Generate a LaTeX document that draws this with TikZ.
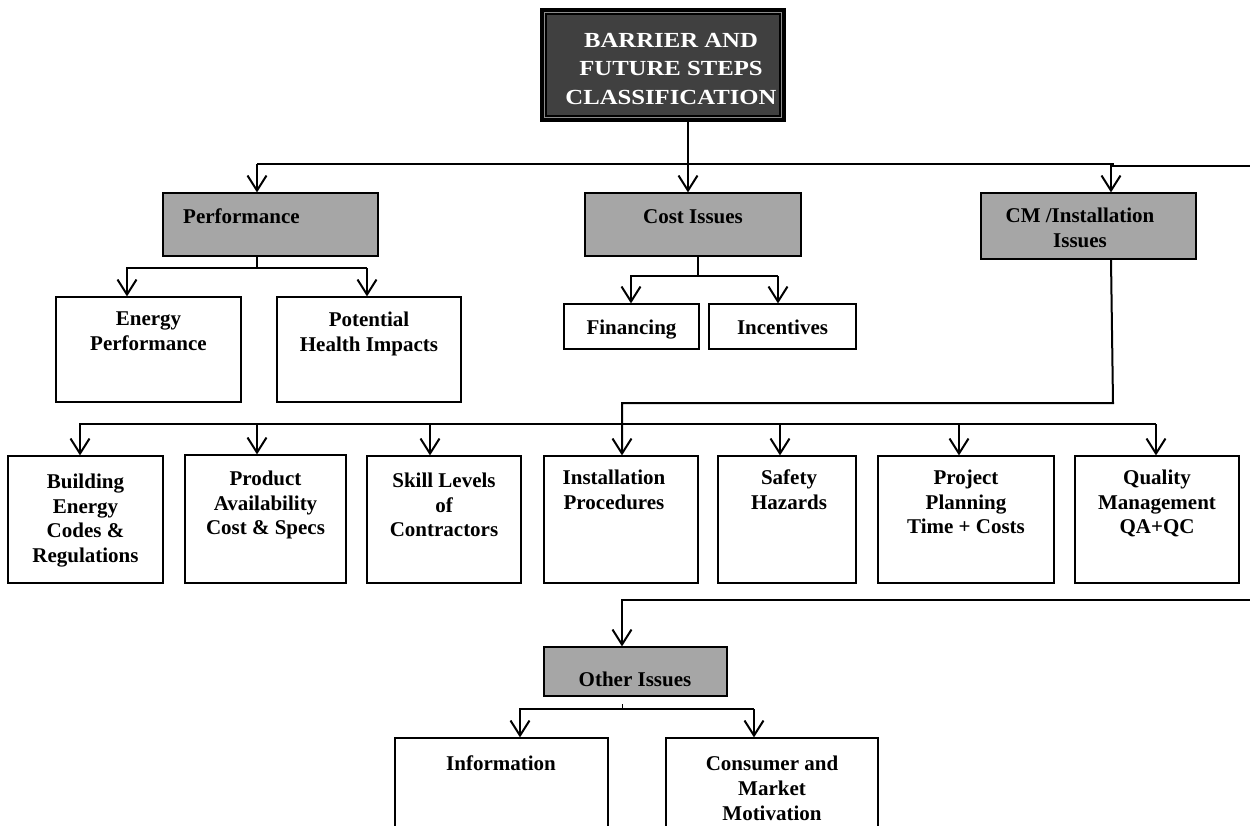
\documentclass[tikz,border=0pt]{standalone}
\usepackage{fontspec}
\setmainfont{Liberation Serif}
\newfontfamily\titlefont[FakeStretch=1.15]{Liberation Serif}
\usetikzlibrary{arrows.meta,calc}
\definecolor{boxgray}{HTML}{A6A6A6}
\definecolor{titlegray}{HTML}{404040}
\definecolor{framegray}{HTML}{8C8C8C}
\begin{document}
\begin{tikzpicture}[x=1pt,y=-1pt,
  box/.style={draw=black, line width=1.2pt, fill=white, inner sep=0pt},
  graybox/.style={box, fill=boxgray},
  lbl/.style={font=\fontsize{21}{24.5}\selectfont\bfseries, align=center, inner sep=0pt, anchor=north},
  link/.style={line width=2pt},
  arr/.style={link, -{Straight Barb[length=15pt,width=19pt]}},
]
\useasboundingbox (0,0) rectangle (1250,825);
\clip (0,0) rectangle (1250,825);

% ---- title block with double frame
\node[fill=black, inner sep=0pt, minimum width=246pt, minimum height=114pt] (title) at (663,65) {};
\draw[framegray, line width=1pt] ($(title.north west)+(4.5,4.5)$) rectangle ($(title.south east)+(-4.5,-4.5)$);
\draw[black, fill=titlegray, line width=1pt] ($(title.north west)+(6.5,6.5)$) rectangle ($(title.south east)+(-6.5,-6.5)$);
\node[lbl, text=white, font=\titlefont\fontsize{21.5}{28.5}\selectfont\bfseries] (titletxt) at (671,33) {BARRIER AND\\FUTURE STEPS\\CLASSIFICATION};

% ---- first level
\node[graybox, minimum width=215pt, minimum height=63pt] (perf) at (270.5,224.5) {};
\node[lbl, anchor=north west] (perftxt) at (183,209) {Performance};
\node[graybox, minimum width=216pt, minimum height=63pt] (cost) at (693,224.5) {};
\node[lbl] (costtxt) at (693,209) {Cost Issues};
\node[graybox, minimum width=215pt, minimum height=66pt] (cm) at (1088.5,226) {};
\node[lbl] (cmtxt) at (1080,208) {CM /Installation\\Issues};

% ---- performance children
\node[box, minimum width=185pt, minimum height=105pt] (ep) at (148.5,349.5) {};
\node[lbl] (eptxt) at (148.5,312) {Energy\\Performance};
\node[box, minimum width=184pt, minimum height=105pt] (pot) at (369,349.5) {};
\node[lbl] (pottxt) at (369,312) {Potential\\Health Impacts};

% ---- cost children
\node[box, minimum width=135pt, minimum height=45pt] (fin) at (631.5,326.5) {};
\node[lbl] (fintxt) at (631.5,320) {Financing};
\node[box, minimum width=147pt, minimum height=45pt] (inc) at (782.5,326.5) {};
\node[lbl] (inctxt) at (782.5,320) {Incentives};

% ---- installation children
\node[box, minimum width=155pt, minimum height=127pt] (b1) at (85.5,519.5) {};
\node[lbl] (b1txt) at (85.5,474) {Building\\Energy\\Codes \&\\Regulations};
\node[box, minimum width=161pt, minimum height=128pt] (b2) at (265.5,519) {};
\node[lbl] (b2txt) at (265.5,471) {Product\\Availability\\Cost \& Specs};
\node[box, minimum width=154pt, minimum height=127pt] (b3) at (444,519.5) {};
\node[lbl] (b3txt) at (444,473) {Skill Levels\\of\\Contractors};
\node[box, minimum width=154pt, minimum height=127pt] (b4) at (621,519.5) {};
\node[lbl] (b4txt) at (614,470) {Installation\\Procedures};
\node[box, minimum width=138pt, minimum height=127pt] (b5) at (787,519.5) {};
\node[lbl] (b5txt) at (789,470) {Safety\\Hazards};
\node[box, minimum width=176pt, minimum height=127pt] (b6) at (966,519.5) {};
\node[lbl] (b6txt) at (966,470) {Project\\Planning\\Time + Costs};
\node[box, minimum width=164pt, minimum height=127pt] (b7) at (1157,519.5) {};
\node[lbl] (b7txt) at (1157,470) {Quality\\Management\\QA+QC};

% ---- other issues and children
\node[graybox, minimum width=183pt, minimum height=49pt] (other) at (635.5,671.5) {};
\node[lbl] (othertxt) at (635,672) {Other Issues};
\node[box, minimum width=213pt, minimum height=122pt] (info) at (501.5,799) {};
\node[lbl] (infotxt) at (501,756) {Information};
\node[box, minimum width=212pt, minimum height=122pt] (cons) at (772,799) {};
\node[lbl, font=\fontsize{21}{25}\selectfont\bfseries] (constxt) at (772,756) {Consumer and\\Market\\Motivation};

% ---- junction points
\coordinate (topj) at (688,164);
\coordinate (mainL) at (257,164);
\coordinate (cmtap) at (1111,164);
\coordinate (mainJ) at (1113,164);
\coordinate (mainR) at (1250,166);
\coordinate (perfj) at (257,268);
\coordinate (perfL) at (127,268);
\coordinate (perfR) at (367,268);
\coordinate (costj) at (698,276);
\coordinate (costL) at (631,276);
\coordinate (costR) at (778,276);
\coordinate (cmB) at (1113,403);
\coordinate (cmC) at (622,403);
\coordinate (rowL) at (80,424);
\coordinate (r2) at (257,424);
\coordinate (r3) at (430,424);
\coordinate (r5) at (780,424);
\coordinate (r6) at (959,424);
\coordinate (rowR) at (1156,424);
\coordinate (oR) at (1250,600);
\coordinate (oL) at (622,600);
\coordinate (ostub) at (622,704);
\coordinate (oj) at (622,709);
\coordinate (oL2) at (520,709);
\coordinate (oR2) at (754,709);

% ---- connectors: title to first level
\draw[link] (title.south -| topj) -- (topj);
\draw[link] (mainL) -- (mainJ) -- ++(0,2) -- (mainR);
\draw[arr] (mainL) -- (mainL |- perf.north);
\draw[arr] (topj) -- (topj |- cost.north);
\draw[arr] (cmtap) -- (cmtap |- cm.north);

% ---- performance split
\draw[link] (perf.south -| perfj) -- (perfj);
\draw[arr] (perfR) -- (perfL) -- (perfL |- ep.north);
\draw[arr] (perfR) -- (perfR |- pot.north);

% ---- cost split
\draw[link] (cost.south -| costj) -- (costj);
\draw[arr] (costR) -- (costL) -- (costL |- fin.north);
\draw[arr] (costR) -- (costR |- inc.north);

% ---- installation issues fan-out
\draw[arr] (cm.south -| cmtap) -- (cmB) -- (cmC) -- (cmC |- b4.north);
\draw[arr] (rowR) -- (rowL) -- (rowL |- b1.north);
\draw[arr] (r2) -- (r2 |- b2.north);
\draw[arr] (r3) -- (r3 |- b3.north);
\draw[arr] (r5) -- (r5 |- b5.north);
\draw[arr] (r6) -- (r6 |- b6.north);
\draw[arr] (rowR) -- (rowR |- b7.north);

% ---- other issues
\draw[arr] (oR) -- (oL) -- (oL |- other.north);
\draw[line width=1pt] (ostub) -- (oj);
\draw[arr] (oR2) -- (oL2) -- (oL2 |- info.north);
\draw[arr] (oR2) -- (oR2 |- cons.north);
\end{tikzpicture}
\end{document}
